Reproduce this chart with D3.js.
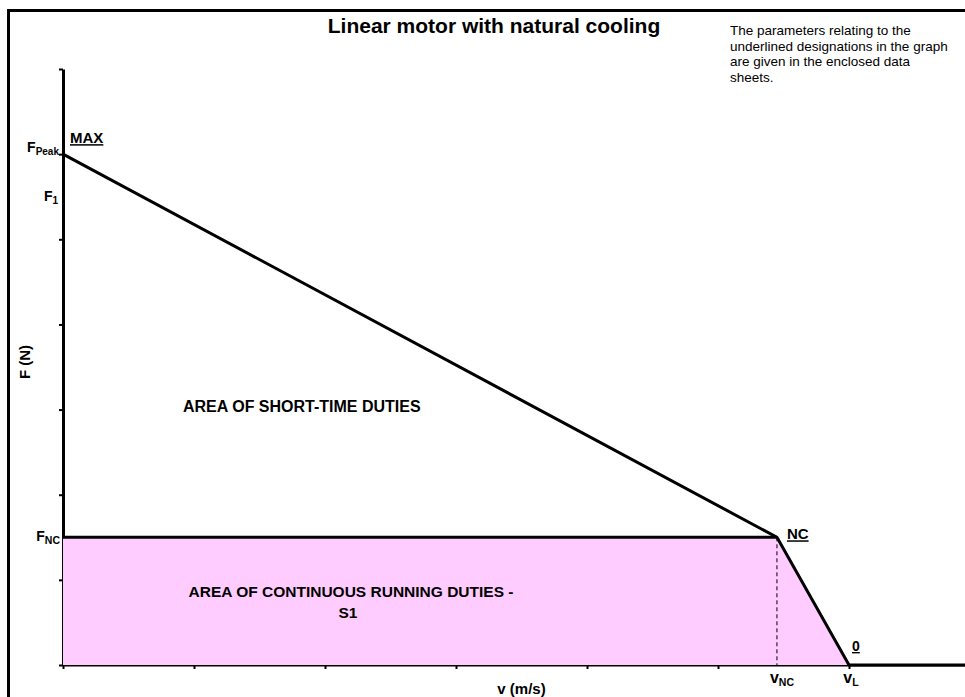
<!DOCTYPE html>
<html lang="en">
    <head>
        <meta charset="UTF-8" />
        <title>Linear motor with natural cooling</title>
        <script src="https://d3js.org/d3.v7.min.js"></script>
        <style>
            body {
                margin: 0;
                background: white;
            }
            text {
                font-family: "Liberation Sans", Arial, sans-serif;
                fill: #000;
            }
            .bold {
                font-weight: bold;
            }
        </style>
    </head>

    <body>
        <div id="chart"></div>

        <script>
            const width = 965,
                height = 697;

            // axis ticks (unitless, the sheet has no numbers)
            const speedTicks = [0, 1, 2, 3, 4, 5, 6];
            const forceTicks = [0, 1, 2, 3, 4, 5, 6, 7];

            // characteristic curve: MAX -> NC -> 0 -> beyond
            const curveSpeed = [0, 5.45, 6, 7];
            const curveForce = [6, 1.5, 0, 0];

            // continuous running area (S1)
            const areaSpeed = [0, 5.45, 6];
            const areaForce = [1.5, 1.5, 0];

            const vNC = 5.45,
                vL = 6,
                fPeak = 6,
                f1 = 5.5,
                fNC = 1.5;

            const noteLines = [
                "The parameters relating to the",
                "underlined designations in the graph",
                "are given in the enclosed data",
                "sheets.",
            ];

            const svg = d3
                .select("#chart")
                .append("svg")
                .attr("width", width)
                .attr("height", height);

            const x = d3.scaleLinear().domain([0, 7]).range([63, 980]);
            const y = d3.scaleLinear().domain([0, 7]).range([665, 69]);

            // outer frame (runs off the right and bottom edge)
            svg.append("rect")
                .attr("x", 8.5)
                .attr("y", 10.5)
                .attr("width", 1100)
                .attr("height", 900)
                .attr("fill", "none")
                .attr("stroke", "#000")
                .attr("stroke-width", 3);

            // axes
            const xAxis = svg
                .append("g")
                .attr("transform", `translate(0,${y(0)})`)
                .call(
                    d3
                        .axisBottom(x)
                        .tickValues(speedTicks)
                        .tickSize(4)
                        .tickSizeOuter(0)
                        .tickFormat(""),
                );
            const yAxis = svg
                .append("g")
                .attr("transform", `translate(${x(0)},0)`)
                .call(
                    d3
                        .axisLeft(y)
                        .tickValues(forceTicks)
                        .tickSize(4)
                        .tickSizeOuter(0)
                        .tickFormat(""),
                );
            xAxis.select(".domain").attr("stroke-width", 2.2);
            yAxis.select(".domain").attr("stroke-width", 3);
            svg.selectAll(".tick line").attr("stroke-width", 2);

            // pink area of continuous running duties
            const areaPts = areaSpeed.map((v, i) => [v, areaForce[i]]);
            areaPts.push([0, 0]);
            areaPts.unshift([0, 0]);
            svg.append("path")
                .datum(areaPts)
                .attr("fill", "#ffccff")
                .attr(
                    "d",
                    d3
                        .line()
                        .x((d) => x(d[0]))
                        .y((d) => y(d[1])),
                );

            // dashed drop line at vNC
            svg.append("line")
                .attr("x1", x(vNC))
                .attr("x2", x(vNC))
                .attr("y1", y(fNC))
                .attr("y2", y(0))
                .attr("stroke", "#000")
                .attr("stroke-width", 1)
                .attr("stroke-dasharray", "4,3");

            // F_NC horizontal line
            svg.append("line")
                .attr("x1", x(0))
                .attr("x2", x(vNC))
                .attr("y1", y(fNC))
                .attr("y2", y(fNC))
                .attr("stroke", "#000")
                .attr("stroke-width", 3);

            // characteristic curve
            svg.append("path")
                .datum(curveSpeed.map((v, i) => [v, curveForce[i]]))
                .attr("fill", "none")
                .attr("stroke", "#000")
                .attr("stroke-width", 3)
                .attr("stroke-linejoin", "round")
                .attr(
                    "d",
                    d3
                        .line()
                        .x((d) => x(d[0]))
                        .y((d) => y(d[1])),
                );

            // title
            svg.append("text")
                .attr("class", "bold")
                .attr("x", 494)
                .attr("y", 33)
                .attr("text-anchor", "middle")
                .attr("font-size", 21)
                .text("Linear motor with natural cooling");

            // note
            svg.append("text")
                .attr("x", 730)
                .attr("y", 35)
                .attr("font-size", 13.5)
                .selectAll("tspan")
                .data(noteLines)
                .join("tspan")
                .attr("x", 730)
                .attr("dy", (d, i) => (i === 0 ? 0 : 15.5))
                .text((d) => d);

            // axis titles
            svg.append("text")
                .attr("class", "bold")
                .attr("x", x(3.5))
                .attr("y", 694)
                .attr("text-anchor", "middle")
                .attr("font-size", 15)
                .text("v (m/s)");
            svg.append("text")
                .attr("class", "bold")
                .attr("transform", `translate(30,${y(3.5) - 5}) rotate(-90)`)
                .attr("text-anchor", "middle")
                .attr("font-size", 15)
                .text("F (N)");

            // F labels with subscripts
            function subLabel(px, py, main, sub, anchor, size, subSize) {
                const t = svg
                    .append("text")
                    .attr("class", "bold")
                    .attr("x", px)
                    .attr("y", py)
                    .attr("text-anchor", anchor)
                    .attr("font-size", size);
                t.append("tspan").text(main);
                t.append("tspan")
                    .attr("font-size", subSize)
                    .attr("dy", 3)
                    .text(sub);
            }
            subLabel(x(0) - 4, y(fPeak) - 2, "F", "Peak", "end", 14, 10);
            subLabel(x(0) - 5, y(f1) + 4, "F", "1", "end", 14, 10);
            subLabel(x(0) - 3, y(fNC) + 4, "F", "NC", "end", 14, 10.5);
            subLabel(x(vNC) + 5, y(0) + 18, "v", "NC", "middle", 16, 10.5);
            subLabel(x(vL) + 2, y(0) + 18, "v", "L", "middle", 16, 10.5);

            // underlined point names
            const pointNames = [
                { name: "MAX", v: 0, f: fPeak, dx: 7, dy: -11 },
                { name: "NC", v: vNC, f: fNC, dx: 10, dy: 2 },
                { name: "0", v: vL, f: 0, dx: 3, dy: -14 },
            ];
            svg.selectAll(".pname")
                .data(pointNames)
                .join("text")
                .attr("class", "pname bold")
                .attr("x", (d) => x(d.v) + d.dx)
                .attr("y", (d) => y(d.f) + d.dy)
                .attr("font-size", (d) => (d.name === "0" ? 14 : 15))
                .attr("text-decoration", "underline")
                .text((d) => d.name);

            // area captions
            svg.append("text")
                .attr("class", "bold")
                .attr("x", 183)
                .attr("y", 412)
                .attr("font-size", 16)
                .text("AREA OF SHORT-TIME DUTIES");

            const s1 = svg
                .append("text")
                .attr("class", "bold")
                .attr("text-anchor", "middle")
                .attr("font-size", 15.5);
            s1.append("tspan")
                .attr("x", 351)
                .attr("y", 597)
                .text("AREA OF CONTINUOUS RUNNING DUTIES -");
            s1.append("tspan").attr("x", 348).attr("y", 618).text("S1");
        </script>
    </body>
</html>
